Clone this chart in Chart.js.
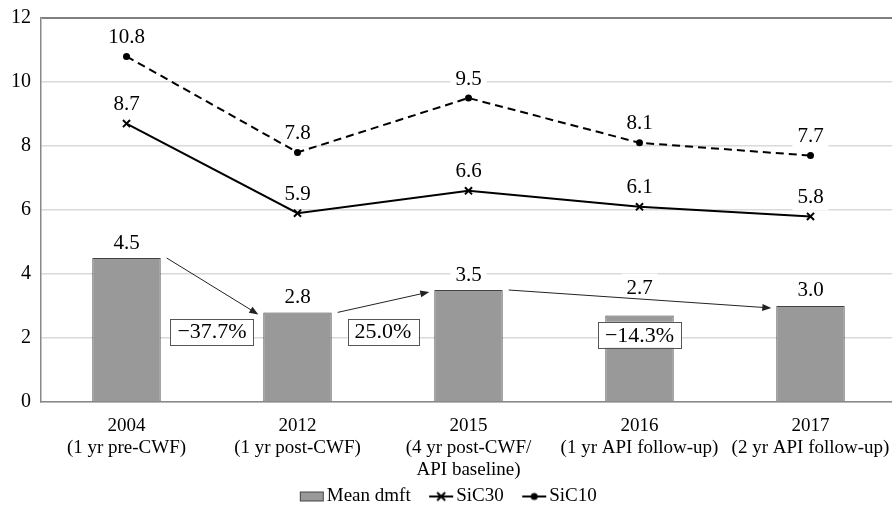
<!DOCTYPE html>
<html>
<head>
<meta charset="utf-8">
<script src="https://cdn.jsdelivr.net/npm/chart.js@4/dist/chart.umd.min.js"></script>
<style>
  html, body { margin: 0; padding: 0; background: #fff; overflow: hidden; }
</style>
</head>
<body>
<canvas id="myChart" width="903" height="505"></canvas>
<script>
// ---------------------- data ---------------------
var years = [
  ["2004", "(1 yr pre-CWF)"],
  ["2012", "(1 yr post-CWF)"],
  ["2015", "(4 yr post-CWF/", "API baseline)"],
  ["2016", "(1 yr API follow-up)"],
  ["2017", "(2 yr API follow-up)"]
];
var meanDmft = [4.5, 2.8, 3.5, 2.7, 3.0];
var sic30 = [8.7, 5.9, 6.6, 6.1, 5.8];
var sic10 = [10.8, 7.8, 9.5, 8.1, 7.7];

// percent change arrows: from bar -> to bar
var changeFrom = [0, 1, 2];
var changeTo = [1, 2, 4];
var changeText = ["\u221237.7%", "25.0%", "\u221214.3%"];

var serif = '"Liberation Serif", "Times New Roman", serif';
Chart.defaults.font.family = serif;
Chart.defaults.color = '#000';

// legend icons
function legendIcon(kind) {
  var c = document.createElement('canvas');
  c.width = 26; c.height = 12;
  var g = c.getContext('2d');
  if (kind == 'bar') {
    g.fillStyle = '#999999';
    g.fillRect(1, 1, 24, 10);
    g.strokeStyle = '#444';
    g.lineWidth = 1;
    g.strokeRect(1.5, 1.5, 23, 9);
  } else {
    g.strokeStyle = '#000';
    g.fillStyle = '#000';
    g.lineWidth = 2;
    g.beginPath(); g.moveTo(1, 6); g.lineTo(25, 6); g.stroke();
    if (kind == 'cross') {
      g.beginPath();
      g.moveTo(9, 2); g.lineTo(17, 10);
      g.moveTo(17, 2); g.lineTo(9, 10);
      g.stroke();
    } else {
      g.beginPath(); g.arc(13, 6, 3.5, 0, Math.PI * 2); g.fill();
    }
  }
  return c;
}
var icons = [legendIcon('bar'), legendIcon('cross'), legendIcon('dot')];

// ---------------------- value labels ---------------------
var valueLabels = {
  id: 'valueLabels',
  beforeDatasetsDraw: function(chart, args, opts) {
    var ctx = chart.ctx;
    ctx.save();
    ctx.font = '21px ' + serif;
    ctx.textAlign = 'center';
    ctx.textBaseline = 'middle';
    chart.data.datasets.forEach(function(ds, di) {
      var meta = chart.getDatasetMeta(di);
      meta.data.forEach(function(el, i) {
        var txt = ds.data[i].toFixed(1);
        var lift = ds.type == 'line' ? opts.lineLift : opts.barLift[i];
        var y = el.y - lift;
        var w = ctx.measureText(txt).width + 10;
        ctx.fillStyle = '#fff';
        ctx.fillRect(el.x - w / 2, y - 14, w, 28);
        ctx.fillStyle = '#000';
        ctx.fillText(txt, el.x, y + 1);
      });
    });
    ctx.restore();
  }
};

// ---------------------- change arrows + boxes ---------------------
var changeArrows = {
  id: 'changeArrows',
  afterDatasetsDraw: function(chart, args, opts) {
    var ctx = chart.ctx;
    var bars = chart.getDatasetMeta(0).data;
    var xs = chart.scales.x, ys = chart.scales.y;
    ctx.save();
    changeFrom.forEach(function(f, k) {
      var a = bars[f], b = bars[changeTo[k]];
      var x0 = a.x + a.width / 2 + 6, y0 = a.y;
      var x1 = b.x - b.width / 2 - 5, y1 = b.y + 2;
      var ang = Math.atan2(y1 - y0, x1 - x0);
      ctx.strokeStyle = '#222';
      ctx.fillStyle = '#222';
      ctx.lineWidth = 1;
      ctx.beginPath();
      ctx.moveTo(x0, y0);
      ctx.lineTo(x1 - 7 * Math.cos(ang), y1 - 7 * Math.sin(ang));
      ctx.stroke();
      ctx.beginPath();
      ctx.moveTo(x1, y1);
      ctx.lineTo(x1 - 9 * Math.cos(ang) + 3.5 * Math.sin(ang), y1 - 9 * Math.sin(ang) - 3.5 * Math.cos(ang));
      ctx.lineTo(x1 - 9 * Math.cos(ang) - 3.5 * Math.sin(ang), y1 - 9 * Math.sin(ang) + 3.5 * Math.cos(ang));
      ctx.closePath();
      ctx.fill();

      // box at midpoint of the two categories
      var cx = xs.getPixelForValue((f + changeTo[k]) / 2);
      var cy = ys.getPixelForValue(opts.boxY[k]);
      ctx.font = '22px ' + serif;
      var w = ctx.measureText(changeText[k]).width + 14;
      var h = 26;
      ctx.fillStyle = '#fff';
      ctx.fillRect(cx - w / 2, cy - h / 2, w, h);
      ctx.strokeStyle = '#555';
      ctx.strokeRect(Math.round(cx - w / 2) + 0.5, Math.round(cy - h / 2) + 0.5, Math.round(w), h);
      ctx.fillStyle = '#000';
      ctx.textAlign = 'center';
      ctx.textBaseline = 'middle';
      ctx.fillText(changeText[k], cx, cy + 1);
    });
    ctx.restore();
  }
};

// put legend row just under the tick labels
var legendPlace = {
  id: 'legendPlace',
  afterLayout: function(chart, args, opts) {
    var lg = chart.legend;
    if (!lg) return;
    var h = lg.height;
    lg.top = opts.top;
    lg.bottom = opts.top + h;
    lg.left += opts.dx;
    lg.right += opts.dx;
  }
};

new Chart("myChart", {
  type: "bar",
  data: {
    labels: years,
    datasets: [{
      type: 'bar',
      label: 'Mean dmft',
      data: meanDmft,
      backgroundColor: '#999999',
      borderColor: '#444',
      borderWidth: 1,
      categoryPercentage: 1,
      barPercentage: 0.4
    }, {
      type: 'line',
      label: 'SiC30',
      data: sic30,
      borderColor: '#000',
      backgroundColor: '#000',
      borderWidth: 2,
      pointStyle: 'crossRot',
      pointRadius: 5,
      pointBorderWidth: 2,
      tension: 0
    }, {
      type: 'line',
      label: 'SiC10',
      data: sic10,
      borderColor: '#000',
      backgroundColor: '#000',
      borderWidth: 2,
      borderDash: [8, 5],
      pointStyle: 'circle',
      pointRadius: 3.5,
      pointBorderWidth: 0,
      tension: 0
    }]
  },
  options: {
    responsive: false,
    animation: false,
    devicePixelRatio: 1,
    layout: { padding: { left: 0, right: 0, top: 18, bottom: -31 } },
    scales: {
      x: {
        grid: { display: false, drawTicks: false },
        border: { display: true, color: '#888', width: 1.5 },
        ticks: { font: { size: 19, lineHeight: 1.15 }, color: '#000', padding: 13, maxRotation: 0, autoSkip: false },
        afterFit: function(scale) {
          scale.height = 80;
          scale.paddingLeft = 0;
          scale.paddingRight = 0;
        }
      },
      y: {
        min: 0,
        max: 12,
        ticks: { stepSize: 2, font: { size: 20 }, color: '#000', padding: 10 },
        grid: {
          drawTicks: false,
          color: function(c) { return c.tick && c.tick.value === 12 ? '#808080' : '#d9d9d9'; },
          lineWidth: function(c) { return c.tick && c.tick.value === 12 ? 2 : 1.5; }
        },
        border: { display: true, color: '#888', width: 1.5 },
        afterFit: function(scale) {
          scale.width = 41;
          scale.paddingTop = 0;
          scale.paddingBottom = 0;
        }
      }
    },
    plugins: {
      tooltip: { enabled: false },
      legend: {
        position: 'bottom',
        labels: {
          usePointStyle: true,
          pointStyleWidth: 11,
          boxHeight: 12,
          padding: 25,
          color: '#000',
          font: { size: 19 },
          generateLabels: function(chart) {
            var items = Chart.defaults.plugins.legend.labels.generateLabels(chart);
            items.forEach(function(it, i) { it.pointStyle = icons[i]; });
            return items;
          }
        }
      },
      legendPlace: { top: 462, dx: 0 },
      valueLabels: { lineLift: 20, barLift: [16, 16, 16, 28, 17] },
      changeArrows: { boxY: [2.2, 2.2, 2.1] }
    }
  },
  plugins: [valueLabels, changeArrows, legendPlace]
});
</script>
</body>
</html>
